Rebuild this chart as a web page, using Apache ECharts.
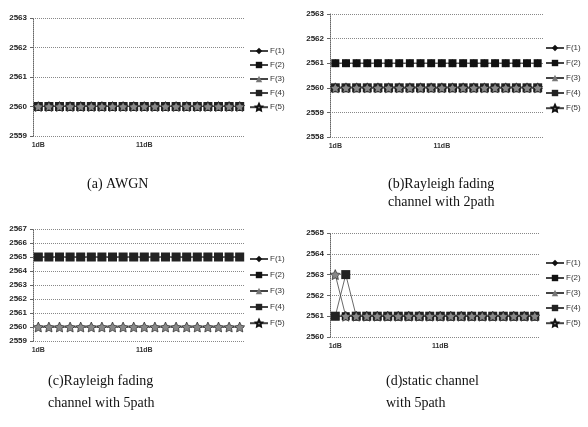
<!DOCTYPE html>
<html>
<head>
<meta charset="utf-8">
<script src="https://cdn.jsdelivr.net/npm/echarts@6/dist/echarts.min.js"></script>
<style>
  html, body { margin: 0; padding: 0; background: #fff; }
  #chart { width: 588px; height: 427px; }
</style>
</head>
<body>
<div id="chart"></div>
<script>
// x categories (SNR points), labels shown every 10
const xCats = ['1dB','2dB','3dB','4dB','5dB','6dB','7dB','8dB','9dB','10dB',
  '11dB','12dB','13dB','14dB','15dB','16dB','17dB','18dB','19dB','20dB'];
const seriesNames = ['F(1)', 'F(2)', 'F(3)', 'F(4)', 'F(5)'];

// (a) AWGN
const aF1 = [2560,2560,2560,2560,2560,2560,2560,2560,2560,2560,2560,2560,2560,2560,2560,2560,2560,2560,2560,2560];
const aF2 = [2560,2560,2560,2560,2560,2560,2560,2560,2560,2560,2560,2560,2560,2560,2560,2560,2560,2560,2560,2560];
const aF3 = [2560,2560,2560,2560,2560,2560,2560,2560,2560,2560,2560,2560,2560,2560,2560,2560,2560,2560,2560,2560];
const aF4 = [2560,2560,2560,2560,2560,2560,2560,2560,2560,2560,2560,2560,2560,2560,2560,2560,2560,2560,2560,2560];
const aF5 = [2560,2560,2560,2560,2560,2560,2560,2560,2560,2560,2560,2560,2560,2560,2560,2560,2560,2560,2560,2560];

// (b) Rayleigh fading, 2 path
const bF1 = [2561,2561,2561,2561,2561,2561,2561,2561,2561,2561,2561,2561,2561,2561,2561,2561,2561,2561,2561,2561];
const bF2 = [2561,2561,2561,2561,2561,2561,2561,2561,2561,2561,2561,2561,2561,2561,2561,2561,2561,2561,2561,2561];
const bF3 = [2560,2560,2560,2560,2560,2560,2560,2560,2560,2560,2560,2560,2560,2560,2560,2560,2560,2560,2560,2560];
const bF4 = [2560,2560,2560,2560,2560,2560,2560,2560,2560,2560,2560,2560,2560,2560,2560,2560,2560,2560,2560,2560];
const bF5 = [2560,2560,2560,2560,2560,2560,2560,2560,2560,2560,2560,2560,2560,2560,2560,2560,2560,2560,2560,2560];

// (c) Rayleigh fading, 5 path
const cF1 = [2565,2565,2565,2565,2565,2565,2565,2565,2565,2565,2565,2565,2565,2565,2565,2565,2565,2565,2565,2565];
const cF2 = [2565,2565,2565,2565,2565,2565,2565,2565,2565,2565,2565,2565,2565,2565,2565,2565,2565,2565,2565,2565];
const cF3 = [2560,2560,2560,2560,2560,2560,2560,2560,2560,2560,2560,2560,2560,2560,2560,2560,2560,2560,2560,2560];
const cF4 = [2565,2565,2565,2565,2565,2565,2565,2565,2565,2565,2565,2565,2565,2565,2565,2565,2565,2565,2565,2565];
const cF5 = [2560,2560,2560,2560,2560,2560,2560,2560,2560,2560,2560,2560,2560,2560,2560,2560,2560,2560,2560,2560];

// (d) static channel, 5 path
const dF1 = [2561,2561,2561,2561,2561,2561,2561,2561,2561,2561,2561,2561,2561,2561,2561,2561,2561,2561,2561,2561];
const dF2 = [2561,2561,2561,2561,2561,2561,2561,2561,2561,2561,2561,2561,2561,2561,2561,2561,2561,2561,2561,2561];
const dF3 = [2561,2561,2561,2561,2561,2561,2561,2561,2561,2561,2561,2561,2561,2561,2561,2561,2561,2561,2561,2561];
const dF4 = [2561,2563,2561,2561,2561,2561,2561,2561,2561,2561,2561,2561,2561,2561,2561,2561,2561,2561,2561,2561];
const dF5 = [2563,2561,2561,2561,2561,2561,2561,2561,2561,2561,2561,2561,2561,2561,2561,2561,2561,2561,2561,2561];

// y ranges of the four panels
const yRanges = [[2559, 2563], [2558, 2563], [2559, 2567], [2560, 2565]];
const panelData = [
  [aF1, aF2, aF3, aF4, aF5],
  [bF1, bF2, bF3, bF4, bF5],
  [cF1, cF2, cF3, cF4, cF5],
  [dF1, dF2, dF3, dF4, dF5]
];
const captions = [
  ['(a) AWGN'],
  ['(b)Rayleigh fading', 'channel with 2path'],
  ['(c)Rayleigh fading', 'channel with 5path'],
  ['(d)static channel', 'with 5path']
];

const starPath = 'path://M0,-10 L2.9,-4 L9.5,-3 L4.7,1.5 L5.9,8 L0,5 L-5.9,8 L-4.7,1.5 L-9.5,-3 L-2.9,-4 Z';
const styles = [
  { symbol: 'diamond', size: 8, color: '#111' },
  { symbol: 'rect', size: 8, color: '#111' },
  { symbol: 'triangle', size: 5, color: '#777' },
  { symbol: 'rect', size: 9, color: '#222' },
  { symbol: starPath, size: 10, color: '#888' }
];

const grids = [
  { left: 33, top: 18, width: 212, height: 118 },
  { left: 330, top: 14, width: 213, height: 123 },
  { left: 33, top: 229, width: 212, height: 112 },
  { left: 330, top: 233, width: 210, height: 104 }
];
const legendPos = [
  { left: 249, top: 47, itemGap: 6 },
  { left: 545, top: 44, itemGap: 7 },
  { left: 249, top: 255, itemGap: 8 },
  { left: 545, top: 259, itemGap: 7 }
];
const captionPos = [
  { left: 87, top: 175, lh: 18 },
  { left: 388, top: 175, lh: 18 },
  { left: 48, top: 370, lh: 22 },
  { left: 386, top: 370, lh: 22 }
];

const chart = echarts.init(document.getElementById('chart'));

const xAxes = grids.map((g, i) => ({
  type: 'category',
  gridIndex: i,
  data: xCats,
  boundaryGap: true,
  axisLine: { show: false },
  axisTick: { show: false },
  axisLabel: { interval: 9, fontSize: 7, fontWeight: 'bold', color: '#333', margin: 6,
    fontFamily: 'Liberation Sans' }
}));

const yAxes = grids.map((g, i) => ({
  type: 'value',
  gridIndex: i,
  min: yRanges[i][0],
  max: yRanges[i][1],
  interval: 1,
  axisLine: { show: true, lineStyle: { color: '#666', type: 'dotted', width: 1 } },
  axisTick: { show: true, length: 3, lineStyle: { color: '#666' } },
  axisLabel: { fontSize: 8, fontWeight: 'bold', color: '#222', margin: 6,
    fontFamily: 'Liberation Sans', formatter: (v) => String(v) },
  splitLine: { show: true, lineStyle: { color: '#888', type: 'dotted', width: 1 } }
}));

const series = [];
panelData.forEach((arrs, p) => {
  arrs.forEach((vals, k) => {
    const s = styles[k];
    series.push({
      name: seriesNames[k],
      type: 'line',
      xAxisIndex: p,
      yAxisIndex: p,
      data: vals,
      symbol: s.symbol,
      symbolSize: s.size,
      showAllSymbol: true,
      lineStyle: { color: '#444', width: 0.8 },
      itemStyle: { color: s.color, borderColor: '#111', borderWidth: k === 4 ? 0.6 : 0 },
      emphasis: { disabled: true },
      animation: false
    });
  });
});

const legends = legendPos.map((lp) => ({
  orient: 'vertical',
  left: lp.left,
  top: lp.top,
  itemGap: lp.itemGap,
  itemWidth: 18,
  itemHeight: 8,
  padding: 0,
  data: seriesNames,
  selectedMode: false,
  textStyle: { fontSize: 8, color: '#333', padding: [0, 0, 0, -3] }
}));

const graphics = [];
captions.forEach((lines, i) => {
  graphics.push({
    type: 'text',
    left: captionPos[i].left,
    top: captionPos[i].top,
    style: {
      text: lines.join('\n'),
      font: '14px "Liberation Serif"',
      lineHeight: captionPos[i].lh,
      fill: '#111'
    }
  });
});

chart.setOption({
  animation: false,
  grid: grids,
  xAxis: xAxes,
  yAxis: yAxes,
  legend: legends,
  series: series,
  graphic: graphics
});
</script>
</body>
</html>
